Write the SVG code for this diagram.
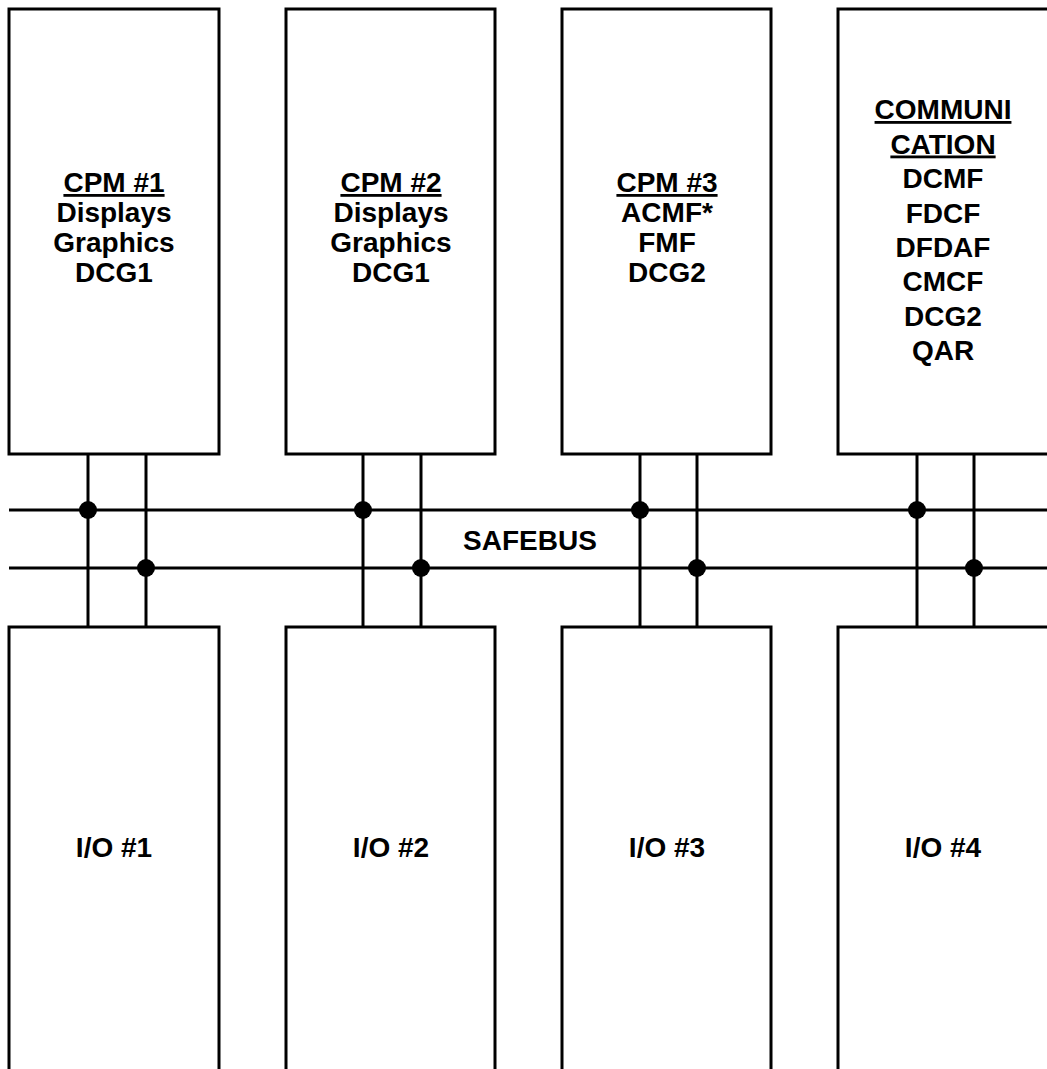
<svg xmlns="http://www.w3.org/2000/svg" width="1047" height="1069" viewBox="0 0 1047 1069">
  <style>
    .box { fill: #ffffff; stroke: #000000; stroke-width: 3; }
    .wire { stroke: #000000; stroke-width: 3; fill: none; }
    .dot { fill: #000000; }
    .t { font-family: "Liberation Sans", Arial, sans-serif; font-weight: bold; font-size: 28px; fill: #000000; text-anchor: middle; }
    .u { text-decoration: underline; }
  </style>
  <rect width="1047" height="1069" fill="#ffffff"/>

  <g id="connectors">
    <line class="wire" x1="9" y1="510" x2="1047" y2="510"/>
    <line class="wire" x1="9" y1="568" x2="1047" y2="568"/>
    <line class="wire" x1="88" y1="454" x2="88" y2="627"/>
    <line class="wire" x1="146" y1="454" x2="146" y2="627"/>
    <line class="wire" x1="363" y1="454" x2="363" y2="627"/>
    <line class="wire" x1="421" y1="454" x2="421" y2="627"/>
    <line class="wire" x1="640" y1="454" x2="640" y2="627"/>
    <line class="wire" x1="697" y1="454" x2="697" y2="627"/>
    <line class="wire" x1="917" y1="454" x2="917" y2="627"/>
    <line class="wire" x1="974" y1="454" x2="974" y2="627"/>
    <circle class="dot" cx="88" cy="510" r="9"/>
    <circle class="dot" cx="146" cy="568" r="9"/>
    <circle class="dot" cx="363" cy="510" r="9"/>
    <circle class="dot" cx="421" cy="568" r="9"/>
    <circle class="dot" cx="640" cy="510" r="9"/>
    <circle class="dot" cx="697" cy="568" r="9"/>
    <circle class="dot" cx="917" cy="510" r="9"/>
    <circle class="dot" cx="974" cy="568" r="9"/>
    <text class="t" x="530" y="550">SAFEBUS</text>
  </g>

  <g id="cpm1">
    <rect class="box" x="9" y="9" width="210" height="445"/>
    <text class="t" x="114" y="192"><tspan class="u">CPM #1</tspan></text>
    <text class="t" x="114" y="222">Displays</text>
    <text class="t" x="114" y="252">Graphics</text>
    <text class="t" x="114" y="282">DCG1</text>
  </g>

  <g id="cpm2">
    <rect class="box" x="286" y="9" width="209" height="445"/>
    <text class="t" x="391" y="192"><tspan class="u">CPM #2</tspan></text>
    <text class="t" x="391" y="222">Displays</text>
    <text class="t" x="391" y="252">Graphics</text>
    <text class="t" x="391" y="282">DCG1</text>
  </g>

  <g id="cpm3">
    <rect class="box" x="562" y="9" width="209" height="445"/>
    <text class="t" x="667" y="192"><tspan class="u">CPM #3</tspan></text>
    <text class="t" x="667" y="222">ACMF*</text>
    <text class="t" x="667" y="252">FMF</text>
    <text class="t" x="667" y="282">DCG2</text>
  </g>

  <g id="communication">
    <rect class="box" x="838" y="9" width="230" height="445"/>
    <text class="t" x="943" y="119"><tspan class="u">COMMUNI</tspan></text>
    <text class="t" x="943" y="153.5"><tspan class="u">CATION</tspan></text>
    <text class="t" x="943" y="188">DCMF</text>
    <text class="t" x="943" y="222.5">FDCF</text>
    <text class="t" x="943" y="257">DFDAF</text>
    <text class="t" x="943" y="291">CMCF</text>
    <text class="t" x="943" y="325.5">DCG2</text>
    <text class="t" x="943" y="360">QAR</text>
  </g>

  <g id="io1">
    <rect class="box" x="9" y="627" width="210" height="460"/>
    <text class="t" x="114" y="857">I/O #1</text>
  </g>

  <g id="io2">
    <rect class="box" x="286" y="627" width="209" height="460"/>
    <text class="t" x="391" y="857">I/O #2</text>
  </g>

  <g id="io3">
    <rect class="box" x="562" y="627" width="209" height="460"/>
    <text class="t" x="667" y="857">I/O #3</text>
  </g>

  <g id="io4">
    <rect class="box" x="838" y="627" width="230" height="460"/>
    <text class="t" x="943" y="857">I/O #4</text>
  </g>
</svg>
